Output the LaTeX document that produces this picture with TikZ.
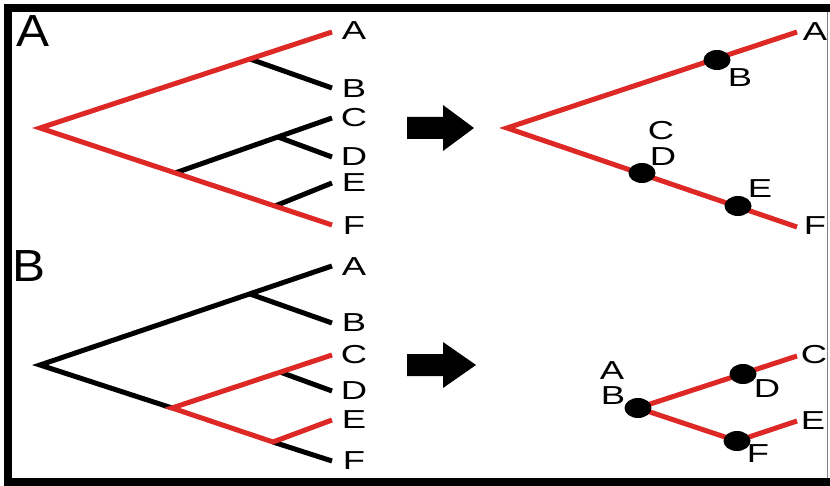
\documentclass[tikz,border=0pt]{standalone}
\usepackage{fontspec}
\setmainfont{Liberation Sans}
\usetikzlibrary{shapes.geometric}
\definecolor{treered}{RGB}{222,40,38}
\begin{document}
\begin{tikzpicture}[x=1pt,y=-1pt,
  br/.style={line width=5pt, line cap=butt, line join=miter},
  rb/.style={br, draw=treered},
  bb/.style={br, draw=black},
  lab/.style={font=\fontsize{26}{26}\selectfont, xscale=1.4, inner sep=0pt},
  panel/.style={font=\fontsize{45}{45}\selectfont, xscale=1.1, inner sep=0pt},
  dotn/.style={ellipse, fill=black, minimum width=27pt, minimum height=20pt, inner sep=0pt},
  frame/.style={fill=black}]
% background and frame
\fill[white] (0,0) rectangle (830,486);
\useasboundingbox (0,0) rectangle (830,486);
\fill[frame] (4,4) rectangle (830,12);
\fill[frame] (4,4) rectangle (12,486);
\fill[frame] (4,478) rectangle (830,486);
\draw[gray, line width=1pt] (827,12) -- (827,478);

% panel labels
\node[panel] (pA) at (33,31) {A};
\node[panel] (pB) at (29,266) {B};

% ---------- Tree A (left top) ----------
\coordinate (a-root) at (40,128);
\coordinate (a-A) at (332,32);
\coordinate (a-B) at (332,88);
\coordinate (a-C) at (332,118);
\coordinate (a-D) at (332,157);
\coordinate (a-E) at (332,183);
\coordinate (a-F) at (332,225);
\coordinate (a-ABj) at (250,59);
\coordinate (a-CDEFj) at (175,173);
\coordinate (a-CDj) at (278,137);
\coordinate (a-EFj) at (275,206);
\draw[bb] (a-ABj) -- (a-B);
\draw[bb] (a-CDEFj) -- (a-C);
\draw[bb] (a-CDj) -- (a-D);
\draw[bb] (a-EFj) -- (a-E);
\draw[rb] (a-A) -- (a-root) -- (a-F);
\node[lab] (la-A) at (354,31) {A};
\node[lab] (la-B) at (354,89) {B};
\node[lab] (la-C) at (354,118) {C};
\node[lab] (la-D) at (354,157) {D};
\node[lab] (la-E) at (354,183) {E};
\node[lab] (la-F) at (354,226) {F};

% ---------- Tree B (left bottom) ----------
\coordinate (b-root) at (40,365);
\coordinate (b-A) at (332,266);
\coordinate (b-B) at (332,323);
\coordinate (b-C) at (332,355);
\coordinate (b-D) at (332,391);
\coordinate (b-E) at (332,420);
\coordinate (b-F) at (332,461);
\coordinate (b-ABj) at (250,294);
\coordinate (b-CDEFj) at (172,408);
\coordinate (b-CDj) at (280,372);
\coordinate (b-EFj) at (273,442);
\draw[bb] (b-A) -- (b-root) -- (b-CDEFj);
\draw[bb] (b-ABj) -- (b-B);
\draw[bb] (b-CDj) -- (b-D);
\draw[bb] (b-EFj) -- (b-F);
\draw[rb] (b-C) -- (b-CDEFj) -- (b-EFj) -- (b-E);
\node[lab] (lb-A) at (354,267) {A};
\node[lab] (lb-B) at (354,323) {B};
\node[lab] (lb-C) at (354,355) {C};
\node[lab] (lb-D) at (354,391) {D};
\node[lab] (lb-E) at (354,420) {E};
\node[lab] (lb-F) at (354,461) {F};

% ---------- block arrows ----------
\fill[black] (407,117) -- (443,117) -- (443,105) -- (474,128) -- (443,151) -- (443,139) -- (407,139) -- cycle;
\fill[black] (407,354) -- (443,354) -- (443,342) -- (476,365) -- (443,388) -- (443,376) -- (407,376) -- cycle;

% ---------- Tree A (right top) ----------
\coordinate (c-root) at (507,128);
\coordinate (c-A) at (797,32);
\coordinate (c-F) at (797,227);
\draw[rb] (c-A) -- (c-root) -- (c-F);
\node[dotn] (c-Bd) at (717,60) {};
\node[dotn] (c-CDd) at (642,173) {};
\node[dotn] (c-Ed) at (738,206) {};
\node[lab] (lc-A) at (815,32) {A};
\node[lab] (lc-B) at (740,78) {B};
\node[lab] (lc-C) at (661,131) {C};
\node[lab] (lc-D) at (663,157) {D};
\node[lab] (lc-E) at (760,189) {E};
\node[lab] (lc-F) at (815,226) {F};

% ---------- Tree B (right bottom) ----------
\coordinate (d-C) at (797,356);
\coordinate (d-E) at (797,421);
\coordinate (d-ABp) at (638,408);
\coordinate (d-Dp) at (743,374);
\coordinate (d-Fp) at (737,441);
\draw[rb] (d-ABp) -- (d-C);
\draw[rb] (d-ABp) -- (d-Fp) -- (d-E);
\node[dotn] (d-ABd) at (d-ABp) {};
\node[dotn] (d-Dd) at (d-Dp) {};
\node[dotn] (d-Fd) at (d-Fp) {};
\node[lab] (ld-A) at (612,371) {A};
\node[lab] (ld-B) at (613,396) {B};
\node[lab] (ld-C) at (814,355) {C};
\node[lab] (ld-D) at (767,389) {D};
\node[lab] (ld-E) at (813,421) {E};
\node[lab] (ld-F) at (758,454) {F};
\end{tikzpicture}
\end{document}
